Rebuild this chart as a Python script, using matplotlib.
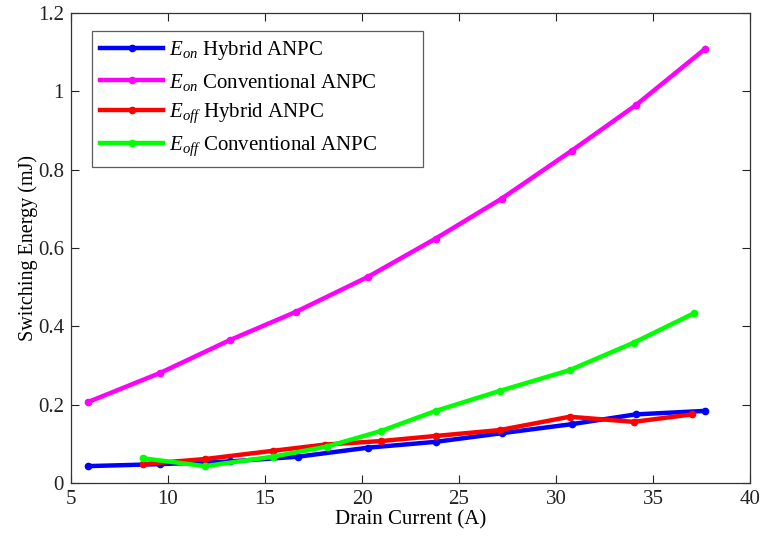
import matplotlib
matplotlib.use("Agg")
import matplotlib.pyplot as plt

plt.rcParams["font.family"] = ["Liberation Serif", "DejaVu Serif"]
plt.rcParams["mathtext.fontset"] = "custom"
plt.rcParams["mathtext.rm"] = "Liberation Serif"
plt.rcParams["mathtext.it"] = "Liberation Serif:italic"

# values
eon_hybrid_x = [5.9, 9.6, 13.2, 16.7, 20.3, 23.8, 27.2, 30.8, 34.1, 37.7]
eon_hybrid_y = [0.043, 0.048, 0.055, 0.067, 0.090, 0.105, 0.127, 0.150, 0.175, 0.184]

eon_conv_x = [5.9, 9.6, 13.2, 16.6, 20.3, 23.8, 27.2, 30.8, 34.1, 37.7]
eon_conv_y = [0.207, 0.281, 0.365, 0.437, 0.526, 0.624, 0.726, 0.848, 0.964, 1.109]

eoff_hybrid_x = [8.7, 11.9, 15.4, 18.1, 21.0, 23.8, 27.1, 30.7, 34.0, 37.0]
eoff_hybrid_y = [0.048, 0.061, 0.082, 0.098, 0.107, 0.120, 0.135, 0.169, 0.156, 0.175]

eoff_conv_x = [8.7, 11.9, 15.4, 18.2, 21.0, 23.8, 27.1, 30.7, 34.0, 37.1]
eoff_conv_y = [0.063, 0.043, 0.067, 0.093, 0.133, 0.184, 0.235, 0.288, 0.358, 0.433]

series = [
    (eon_hybrid_x, eon_hybrid_y, "#0000ff", r"$E_{on}$ Hybrid ANPC"),
    (eon_conv_x, eon_conv_y, "#ff00ff", r"$E_{on}$ Conventional ANPC"),
    (eoff_hybrid_x, eoff_hybrid_y, "#ff0000", r"$E_{off}$ Hybrid ANPC"),
    (eoff_conv_x, eoff_conv_y, "#00ff00", r"$E_{off}$ Conventional ANPC"),
]

fig = plt.figure(figsize=(7.6, 5.39), dpi=100)
ax = fig.add_axes([0.0934, 0.104, 0.8935, 0.872])

for x, y, c, lab in series:
    ax.plot(x, y, color=c, lw=3.2, marker="o", ms=4.5, label=lab)

ax.set_xlim(5, 40)
ax.set_ylim(0, 1.2)
ax.set_xticks(range(5, 41, 5))
ax.set_yticks([0, 0.2, 0.4, 0.6, 0.8, 1.0, 1.2])
ax.set_yticklabels(["0", "0.2", "0.4", "0.6", "0.8", "1", "1.2"])
ax.tick_params(direction="in", top=True, right=True, length=6, width=0.8,
               labelsize=15, colors="#222222", pad=5)
for s in ax.spines.values():
    s.set_color("#333333")
    s.set_linewidth(0.9)

ax.set_xlabel("Drain Current (A)", fontsize=15, labelpad=1)
ax.set_ylabel("Switching Energy (mJ)", fontsize=14.5, labelpad=0)

leg = ax.legend(loc="upper left", bbox_to_anchor=(0.031, 0.683, 0.4875, 0.279),
                mode="expand", fontsize=15, frameon=True, fancybox=False,
                handlelength=3.0, handletextpad=0.3, borderpad=0.4,
                labelspacing=0.45, borderaxespad=0)
leg.get_frame().set_edgecolor("#333333")
leg.get_frame().set_linewidth(0.9)

fig.savefig("out.png", dpi=100)
